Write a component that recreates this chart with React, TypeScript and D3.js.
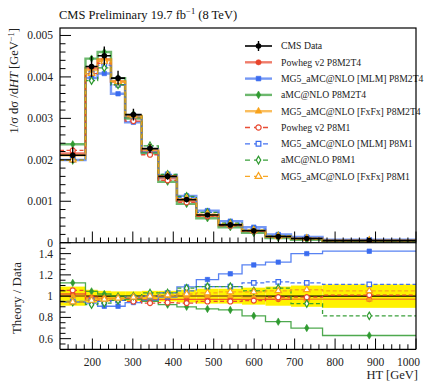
import React from "react";
import * as d3 from "d3";

// HT bin edges [GeV]
const binEdges = [120, 183, 213, 246, 281, 322, 363, 409, 457, 512, 570, 628, 691, 769, 1000];

// Normalised measured cross section 1/sigma dsigma/dHT [GeV^-1]
const dataValues = [0.00211, 0.00425, 0.00451, 0.00397, 0.00309, 0.00227, 0.0016, 0.00104, 0.00067, 0.00043, 0.00029, 0.00015, 0.0001, 0.00005];
// Relative total uncertainty on the measurement
const dataRelUnc = [0.09, 0.06, 0.05, 0.045, 0.045, 0.05, 0.05, 0.06, 0.07, 0.07, 0.08, 0.09, 0.1, 0.11];

// Theory / Data ratios per bin
const powhegM2T4 = [1.02, 0.99, 0.98, 0.98, 0.98, 0.97, 0.97, 0.97, 0.97, 0.97, 0.97, 0.97, 0.97, 0.97];
const mlmM2T4 = [0.945, 0.935, 0.905, 0.905, 0.94, 0.96, 0.99, 1.087, 1.156, 1.21, 1.294, 1.32, 1.4, 1.423];
const amcM2T4 = [1.125, 1.045, 1.02, 1.0, 0.97, 0.95, 0.92, 0.9, 0.88, 0.87, 0.815, 0.76, 0.7, 0.63];
const fxfxM2T4 = [1.0, 0.98, 0.98, 0.98, 0.99, 0.99, 1.0, 1.0, 1.0, 1.0, 0.99, 0.98, 0.97, 0.97];
const powhegM1 = [1.055, 0.96, 0.96, 0.96, 0.95, 0.935, 0.94, 0.935, 0.95, 0.95, 0.958, 0.99, 0.99, 1.01];
const mlmM1 = [0.95, 0.96, 0.95, 0.96, 0.99, 1.0, 1.03, 1.05, 1.09, 1.09, 1.125, 1.135, 1.125, 1.11];
const amcM1 = [0.945, 0.92, 0.935, 0.96, 1.0, 1.03, 1.03, 1.075, 1.09, 1.09, 1.05, 1.075, 0.93, 0.815];
const fxfxM1 = [0.945, 0.96, 0.97, 0.98, 0.99, 1.0, 1.01, 1.02, 1.03, 1.04, 1.04, 1.05, 1.06, 1.05];

const titleMain = "CMS Preliminary 19.7 fb";
const xTickValues = [200, 300, 400, 500, 600, 700, 800, 900, 1000];
const yTopTicks = [0, 0.001, 0.002, 0.003, 0.004, 0.005];
const yTopTickLabels = ["0", "0.001", "0.002", "0.003", "0.004", "0.005"];
const yRatTicks = [0.6, 0.8, 1.0, 1.2, 1.4];
const yRatTickLabels = ["0.6", "0.8", "1", "1.2", "1.4"];

const RED = "#e8452c";
const BLUE = "#3b6cf0";
const GREEN = "#2f9a30";
const ORANGE = "#f8a21b";

type Model = {
  label: string;
  ratio: number[];
  color: string;
  dashed: boolean;
  symbol: d3.SymbolType;
  filled: boolean;
};

const models: Model[] = [
  { label: "Powheg v2 P8M2T4", ratio: powhegM2T4, color: RED, dashed: false, symbol: d3.symbolCircle, filled: true },
  { label: "MG5_aMC@NLO [MLM] P8M2T4", ratio: mlmM2T4, color: BLUE, dashed: false, symbol: d3.symbolSquare, filled: true },
  { label: "aMC@NLO P8M2T4", ratio: amcM2T4, color: GREEN, dashed: false, symbol: d3.symbolDiamond, filled: true },
  { label: "MG5_aMC@NLO [FxFx] P8M2T4", ratio: fxfxM2T4, color: ORANGE, dashed: false, symbol: d3.symbolTriangle, filled: true },
  { label: "Powheg v2 P8M1", ratio: powhegM1, color: RED, dashed: true, symbol: d3.symbolCircle, filled: false },
  { label: "MG5_aMC@NLO [MLM] P8M1", ratio: mlmM1, color: BLUE, dashed: true, symbol: d3.symbolSquare, filled: false },
  { label: "aMC@NLO P8M1", ratio: amcM1, color: GREEN, dashed: true, symbol: d3.symbolDiamond, filled: false },
  { label: "MG5_aMC@NLO [FxFx] P8M1", ratio: fxfxM1, color: ORANGE, dashed: true, symbol: d3.symbolTriangle, filled: false },
];

const FONT = "'Liberation Serif', 'DejaVu Serif', serif";

const x = d3.scaleLinear().domain([120, 1000]).range([60, 416]);
const yTop = d3.scaleLinear().domain([0, 0.00518]).range([242.7, 28]);
const yRat = d3.scaleLinear().domain([0.5, 1.5]).range([349.3, 243]);

const nBins = dataValues.length;
const centers = d3.range(nBins).map((i) => (binEdges[i] + binEdges[i + 1]) / 2);

function stepPath(vals: number[], y: d3.ScaleLinear<number, number>) {
  const pts: [number, number][] = vals.map((v, i) => [binEdges[i], v]);
  pts.push([binEdges[nBins], vals[nBins - 1]]);
  return d3
    .line<[number, number]>()
    .x((d) => x(d[0]))
    .y((d) => y(d[1]))
    .curve(d3.curveStepAfter)(pts) as string;
}

function Marker({ m, cx, cy, size = 26 }: { m: Model; cx: number; cy: number; size?: number }) {
  const sz = m.symbol === d3.symbolDiamond ? size * 0.8 : m.symbol === d3.symbolTriangle ? size * 0.9 : size;
  const path = d3.symbol().type(m.symbol).size(sz)() as string;
  return (
    <path
      d={path}
      transform={`translate(${cx},${cy})`}
      fill={m.filled ? m.color : "white"}
      stroke={m.color}
      strokeWidth={m.filled ? 0.6 : 1.2}
    />
  );
}

export default function App() {
  const xMinor = d3.range(140, 1000, 20).filter((v) => v % 100 !== 0);
  const yTopMinor = d3.range(0, 0.00519, 0.0002).filter((v) => Math.abs(v / 0.001 - Math.round(v / 0.001)) > 1e-6);
  const yRatMinor = d3.range(0.55, 1.5, 0.05).filter((v) => Math.abs(v / 0.2 - Math.round(v / 0.2)) > 1e-6);

  const legendRows = [
    { label: "CMS Data", kind: "data" as const },
    ...models.map((m) => ({ label: m.label, kind: "model" as const, m })),
  ];

  return (
    <svg
      width={429}
      height={381}
      style={{ position: "absolute", left: 0, top: 0, background: "white" }}
      fontFamily={FONT}
    >
      <defs>
        <clipPath id="topClip">
          <rect x={60} y={28} width={356} height={214.7} />
        </clipPath>
        <clipPath id="ratClip">
          <rect x={60} y={243} width={356} height={106.3} />
        </clipPath>
      </defs>

      {/* Title */}
      <text x={59} y={18.5} fontSize={12.5} fill="#111">
        {titleMain}
        <tspan dy={-4.5} fontSize={8.5}>−1</tspan>
        <tspan dy={4.5}> (8 TeV)</tspan>
      </text>

      {/* ===== Upper panel: normalised distribution ===== */}
      <g clipPath="url(#topClip)">
        {models.map((m, k) => (
          <path
            key={"tl" + k}
            d={stepPath(dataValues.map((v, i) => v * m.ratio[i]), yTop)}
            fill="none"
            stroke={m.color}
            strokeOpacity={m.dashed ? 0.95 : 0.7}
            strokeWidth={m.dashed ? 1.3 : 2.4}
            strokeDasharray={m.dashed ? "4,2.5" : undefined}
          />
        ))}
        {models.map((m, k) =>
          centers.map((c, i) => (
            <Marker key={"tm" + k + "-" + i} m={m} cx={x(c)} cy={yTop(dataValues[i] * m.ratio[i])} size={20} />
          ))
        )}
        {/* measured points */}
        {dataValues.map((v, i) => (
          <g key={"d" + i}>
            <line x1={x(binEdges[i])} x2={x(binEdges[i + 1])} y1={yTop(v)} y2={yTop(v)} stroke="black" strokeWidth={1.6} />
            <line
              x1={x(centers[i])}
              x2={x(centers[i])}
              y1={yTop(v * (1 - dataRelUnc[i]))}
              y2={yTop(v * (1 + dataRelUnc[i]))}
              stroke="black"
              strokeWidth={1.4}
            />
            <circle cx={x(centers[i])} cy={yTop(v)} r={2.8} fill="black" />
          </g>
        ))}
      </g>

      {/* Legend */}
      {legendRows.map((r, i) => {
        const cy = 46 + 16.3 * i;
        return (
          <g key={"lg" + i}>
            {r.kind === "data" ? (
              <>
                <line x1={245} x2={272} y1={cy} y2={cy} stroke="black" strokeWidth={1.6} />
                <line x1={258.5} x2={258.5} y1={cy - 5} y2={cy + 5} stroke="black" strokeWidth={1.4} />
                <circle cx={258.5} cy={cy} r={2.8} fill="black" />
              </>
            ) : (
              <>
                <line
                  x1={245}
                  x2={272}
                  y1={cy}
                  y2={cy}
                  stroke={r.m.color}
                  strokeOpacity={r.m.dashed ? 0.95 : 0.7}
                  strokeWidth={r.m.dashed ? 1.3 : 2.4}
                  strokeDasharray={r.m.dashed ? "5,4" : undefined}
                />
                <Marker m={r.m} cx={258.5} cy={cy} size={22} />
              </>
            )}
            <text x={281} y={cy + 3.3} fontSize={9.7} fill="#222">
              {r.label}
            </text>
          </g>
        );
      })}

      {/* Upper frame and ticks */}
      <rect x={60} y={28} width={356} height={214.7} fill="none" stroke="black" strokeWidth={1.2} />
      {xTickValues.map((v) => (
        <line key={"tx" + v} x1={x(v)} x2={x(v)} y1={242.7} y2={231.5} stroke="black" strokeWidth={1} />
      ))}
      {xMinor.map((v) => (
        <line key={"txm" + v} x1={x(v)} x2={x(v)} y1={242.7} y2={237.5} stroke="black" strokeWidth={1} />
      ))}
      {yTopTicks.map((v, i) => (
        <g key={"ty" + i}>
          <line x1={60} x2={71} y1={yTop(v)} y2={yTop(v)} stroke="black" strokeWidth={1} />
          <text x={53} y={yTop(v) + 4} fontSize={11.5} textAnchor="end" fill="#222">
            {yTopTickLabels[i]}
          </text>
        </g>
      ))}
      {yTopMinor.map((v, i) => (
        <line key={"tym" + i} x1={60} x2={65.5} y1={yTop(v)} y2={yTop(v)} stroke="black" strokeWidth={1} />
      ))}
      <text transform="translate(18,28) rotate(-90)" textAnchor="end" fontSize={12.5} fill="#222">
        1/σ dσ /d
        <tspan fontStyle="italic">HT</tspan> [GeV
        <tspan dy={-4.5} fontSize={8.5}>−1</tspan>
        <tspan dy={4.5}>]</tspan>
      </text>

      {/* ===== Lower panel: Theory / Data ===== */}
      <g clipPath="url(#ratClip)">
        {dataRelUnc.map((u, i) => (
          <rect
            key={"band" + i}
            x={x(binEdges[i])}
            width={x(binEdges[i + 1]) - x(binEdges[i])}
            y={yRat(1 + u)}
            height={yRat(1 - u) - yRat(1 + u)}
            fill="#fff200"
          />
        ))}
        <line x1={60} x2={416} y1={yRat(1)} y2={yRat(1)} stroke="black" strokeWidth={1.3} />
        {models.map((m, k) => (
          <path
            key={"rl" + k}
            d={stepPath(m.ratio, yRat)}
            fill="none"
            stroke={m.color}
            strokeOpacity={m.dashed ? 0.95 : 0.85}
            strokeWidth={1.3}
            strokeDasharray={m.dashed ? "4,2.5" : undefined}
          />
        ))}
        {models.map((m, k) =>
          centers.map((c, i) => (
            <g key={"rm" + k + "-" + i}>
              <line
                x1={x(c)}
                x2={x(c)}
                y1={yRat(m.ratio[i] - 0.02)}
                y2={yRat(m.ratio[i] + 0.02)}
                stroke={m.color}
                strokeWidth={1}
              />
              <Marker m={m} cx={x(c)} cy={yRat(m.ratio[i])} size={20} />
            </g>
          ))
        )}
      </g>
      <line x1={60} x2={60} y1={243} y2={349.3} stroke="black" strokeWidth={1.2} />
      <line x1={416} x2={416} y1={243} y2={349.3} stroke="black" strokeWidth={1.2} />
      <line x1={60} x2={416} y1={349.3} y2={349.3} stroke="black" strokeWidth={1.2} />
      {xTickValues.map((v) => (
        <g key={"rx" + v}>
          <line x1={x(v)} x2={x(v)} y1={349.3} y2={338.5} stroke="black" strokeWidth={1} />
          <text
            x={v === 1000 ? x(v) + 4 : x(v)}
            y={366}
            fontSize={11.5}
            textAnchor={v === 1000 ? "end" : "middle"}
            fill="#222"
          >
            {v}
          </text>
        </g>
      ))}
      {xMinor.map((v) => (
        <line key={"rxm" + v} x1={x(v)} x2={x(v)} y1={349.3} y2={344.3} stroke="black" strokeWidth={1} />
      ))}
      {yRatTicks.map((v, i) => (
        <g key={"ry" + i}>
          <line x1={60} x2={71} y1={yRat(v)} y2={yRat(v)} stroke="black" strokeWidth={1} />
          <text x={53} y={yRat(v) + 4} fontSize={11.5} textAnchor="end" fill="#222">
            {yRatTickLabels[i]}
          </text>
        </g>
      ))}
      {yRatMinor.map((v, i) => (
        <line key={"rym" + i} x1={60} x2={65.5} y1={yRat(v)} y2={yRat(v)} stroke="black" strokeWidth={1} />
      ))}
      <text transform="translate(21,298) rotate(-90)" textAnchor="middle" fontSize={13} fill="#222">
        Theory / Data
      </text>
      <text x={418} y={379} fontSize={12.5} textAnchor="end" fill="#222">
        HT [GeV]
      </text>
    </svg>
  );
}
